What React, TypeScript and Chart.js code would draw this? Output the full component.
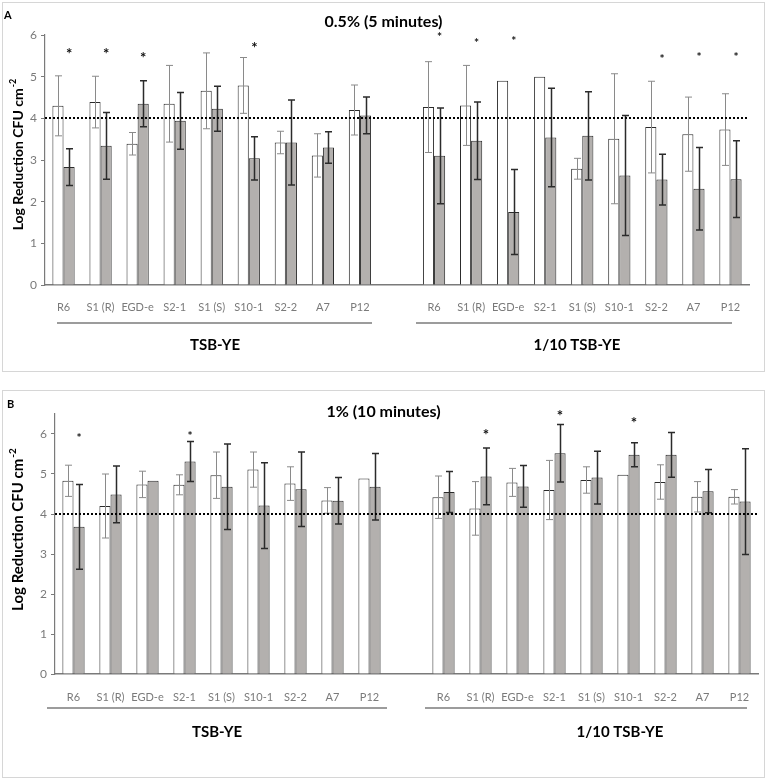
import React, { useEffect, useRef } from "react";
import { Chart, registerables } from "chart.js";

Chart.register(...registerables);

// ---------- data ----------
const strains = ["R6", "S1 (R)", "EGD-e", "S2-1", "S1 (S)", "S10-1", "S2-2", "A7", "P12"];
const mediaGroups = ["TSB-YE", "1/10 TSB-YE"];
const thresholdLog = 4;

// Panel A: 0.5% (5 minutes)
const titleA = "0.5% (5 minutes)";
const aTsbWhite = [4.30, 4.39, 3.39, 4.35, 4.66, 4.79, 3.42, 3.11, 4.20];
const aTsbWhiteSd = [0.72, 0.62, 0.27, 0.92, 0.91, 0.67, 0.27, 0.52, 0.60];
const aTsbGray = [2.83, 3.34, 4.35, 3.94, 4.23, 3.04, 3.42, 3.30, 4.07];
const aTsbGraySd = [0.44, 0.80, 0.55, 0.68, 0.54, 0.52, 1.02, 0.38, 0.44];
const aTenWhite = [4.27, 4.31, 4.90, 5.00, 2.79, 3.51, 3.79, 3.62, 3.73];
const aTenWhiteSd = [1.09, 0.96, 0, 0, 0.25, 1.56, 1.10, 0.89, 0.86];
const aTenGray = [3.10, 3.46, 1.75, 3.54, 3.58, 2.63, 2.53, 2.31, 2.54];
const aTenGraySd = [1.15, 0.93, 1.02, 1.18, 1.06, 1.44, 0.61, 0.99, 0.92];
const aTsbSig = [5.64, 5.64, 5.54, null, null, 5.78, null, null, null];
const aTenSig = [6.01, 5.88, 5.93, null, null, null, 5.50, 5.53, 5.53];

// Panel B: 1% (10 minutes)
const titleB = "1% (10 minutes)";
const bTsbWhite = [4.83, 4.20, 4.74, 4.73, 4.97, 5.11, 4.76, 4.34, 4.89];
const bTsbWhiteSd = [0.39, 0.80, 0.33, 0.25, 0.58, 0.44, 0.42, 0.32, 0];
const bTsbGray = [3.68, 4.49, 4.83, 5.31, 4.68, 4.21, 4.62, 4.33, 4.68];
const bTsbGraySd = [1.06, 0.71, 0, 0.50, 1.07, 1.07, 0.93, 0.58, 0.83];
const bTenWhite = [4.42, 4.14, 4.79, 4.60, 4.85, 4.98, 4.80, 4.43, 4.43];
const bTenWhiteSd = [0.53, 0.67, 0.35, 0.74, 0.33, 0, 0.43, 0.38, 0.18];
const bTenGray = [4.55, 4.94, 4.69, 5.52, 4.91, 5.48, 5.48, 4.57, 4.31];
const bTenGraySd = [0.51, 0.71, 0.52, 0.72, 0.66, 0.30, 0.56, 0.54, 1.32];
const bTsbSig = [5.98, null, null, 6.02, null, null, null, null, null];
const bTenSig = [null, 6.07, null, 6.53, null, 6.36, null, null, null];

// ---------- styling ----------
const FONT = "Lato, 'Open Sans', 'DejaVu Sans', sans-serif";
const WHITE_FILL = "#ffffff";
const GRAY_FILL = "#b3b0ae";
const BAR_EDGE = "#2a2a2a";
const AXIS_COLOR = "#7a7a7a";
const TICK_TEXT = "#7a7a7a";

type Num = number | null;
const joinGroups = (a: Num[], b: Num[]): Num[] => [...a, null, ...b];

type Panel = {
  letter: string;
  title: string;
  white: Num[];
  whiteSd: Num[];
  gray: Num[];
  graySd: Num[];
  sigTsb: Num[];
  sigTen: Num[];
  yMax: number;
  canvasTop: number;
  canvasH: number;
  axisY: number;
  plotTop: number;
  axisX: number;
  plotRight: number;
  tickPad: number;
  titleY: number;
  letterPos: [number, number];
  yTitle: { x: number; y: number; size: number };
  lineY: number;
  tsbLine: [number, number];
  tenLine: [number, number];
  labelY: number;
  tsbLabelX: number;
  tenLabelX: number;
  sigSizeTsb: number;
  sigSizeTen: number;
};

const panelA: Panel = {
  letter: "A",
  title: titleA,
  white: joinGroups(aTsbWhite, aTenWhite),
  whiteSd: joinGroups(aTsbWhiteSd, aTenWhiteSd),
  gray: joinGroups(aTsbGray, aTenGray),
  graySd: joinGroups(aTsbGraySd, aTenGraySd),
  sigTsb: aTsbSig,
  sigTen: aTenSig,
  yMax: 6,
  canvasTop: 0,
  canvasH: 380,
  axisY: 285,
  plotTop: 35,
  axisX: 45,
  plotRight: 749,
  tickPad: 8,
  titleY: 22,
  letterPos: [4, 15],
  yTitle: { x: 18, y: 155, size: 14 },
  lineY: 323,
  tsbLine: [57, 372],
  tenLine: [416, 732],
  labelY: 345,
  tsbLabelX: 215,
  tenLabelX: 577,
  sigSizeTsb: 15,
  sigSizeTen: 12,
};

const panelB: Panel = {
  letter: "B",
  title: titleB,
  white: joinGroups(bTsbWhite, bTenWhite),
  whiteSd: joinGroups(bTsbWhiteSd, bTenWhiteSd),
  gray: joinGroups(bTsbGray, bTenGray),
  graySd: joinGroups(bTsbGraySd, bTenGraySd),
  sigTsb: bTsbSig,
  sigTen: bTenSig,
  yMax: 6.5,
  canvasTop: 385,
  canvasH: 395,
  axisY: 289,
  plotTop: 29,
  axisX: 55,
  plotRight: 758,
  tickPad: 9,
  titleY: 27,
  letterPos: [7, 19],
  yTitle: { x: 18, y: 145, size: 15 },
  lineY: 323,
  tsbLine: [47, 387],
  tenLine: [425, 747],
  labelY: 347,
  tsbLabelX: 217,
  tenLabelX: 620,
  sigSizeTsb: 12,
  sigSizeTen: 15,
};

const W = 767;

function makeOverlay(p: Panel) {
  return {
    id: "overlay" + p.letter,
    afterDatasetsDraw(chart: any) {
      const ctx: CanvasRenderingContext2D = chart.ctx;
      const ys = chart.scales.y;
      const area = chart.chartArea;
      ctx.save();
      // error bars
      const specs = [
        { di: 0, vals: p.white, sd: p.whiteSd, color: "#8a8a8a", lw: 1, cap: 3.5 },
        { di: 1, vals: p.gray, sd: p.graySd, color: "#2b2b2b", lw: 1.5, cap: 3.5 },
      ];
      specs.forEach((s) => {
        const meta = chart.getDatasetMeta(s.di);
        meta.data.forEach((bar: any, i: number) => {
          const v = s.vals[i];
          const e = s.sd[i];
          if (v == null || !e) return;
          const x = Math.round(bar.x) + 0.5;
          const t = ys.getPixelForValue(v + e);
          const b = ys.getPixelForValue(v - e);
          ctx.strokeStyle = s.color;
          ctx.lineWidth = s.lw;
          ctx.beginPath();
          ctx.moveTo(x, t);
          ctx.lineTo(x, b);
          ctx.moveTo(x - s.cap, t);
          ctx.lineTo(x + s.cap, t);
          ctx.moveTo(x - s.cap, b);
          ctx.lineTo(x + s.cap, b);
          ctx.stroke();
        });
      });
      // threshold dotted line
      const ty = Math.round(ys.getPixelForValue(thresholdLog));
      ctx.strokeStyle = "#000";
      ctx.lineWidth = 2;
      ctx.setLineDash([2, 2]);
      ctx.beginPath();
      ctx.moveTo(area.left, ty);
      ctx.lineTo(area.right, ty);
      ctx.stroke();
      ctx.setLineDash([]);
      // significance asterisks (over the gray bars)
      const grayMeta = chart.getDatasetMeta(1);
      const sig = joinGroups(p.sigTsb, p.sigTen);
      sig.forEach((v, i) => {
        if (v == null) return;
        const size = i < strains.length ? p.sigSizeTsb : p.sigSizeTen;
        ctx.fillStyle = "#111";
        ctx.font = `bold ${size}px ${FONT}`;
        ctx.textAlign = "center";
        ctx.textBaseline = "alphabetic";
        ctx.fillText("*", grayMeta.data[i].x, ys.getPixelForValue(v) + size * 0.57);
      });
      ctx.restore();
    },
    afterDraw(chart: any) {
      const ctx: CanvasRenderingContext2D = chart.ctx;
      ctx.save();
      // panel letter
      ctx.fillStyle = "#000";
      ctx.font = `bold 11px ${FONT}`;
      ctx.textAlign = "left";
      ctx.textBaseline = "middle";
      ctx.fillText(p.letter, p.letterPos[0], p.letterPos[1]);
      // title
      ctx.font = `bold 16px ${FONT}`;
      ctx.textAlign = "center";
      ctx.fillText(p.title, W / 2, p.titleY);
      // y axis title with superscript
      const main = "Log Reduction CFU cm";
      const sup = "-2";
      ctx.font = `bold ${p.yTitle.size}px ${FONT}`;
      const wMain = ctx.measureText(main).width;
      ctx.font = `bold ${Math.round(p.yTitle.size * 0.65)}px ${FONT}`;
      const wSup = ctx.measureText(sup).width;
      const total = wMain + wSup;
      ctx.translate(p.yTitle.x, p.yTitle.y);
      ctx.rotate(-Math.PI / 2);
      ctx.textAlign = "left";
      ctx.textBaseline = "middle";
      ctx.font = `bold ${p.yTitle.size}px ${FONT}`;
      ctx.fillText(main, -total / 2, 0);
      ctx.font = `bold ${Math.round(p.yTitle.size * 0.65)}px ${FONT}`;
      ctx.fillText(sup, -total / 2 + wMain + 1, -p.yTitle.size * 0.38);
      ctx.setTransform(1, 0, 0, 1, 0, 0);
      // group lines + labels
      ctx.strokeStyle = "#3a3a3a";
      ctx.lineWidth = 1.2;
      ctx.beginPath();
      ctx.moveTo(p.tsbLine[0], p.lineY);
      ctx.lineTo(p.tsbLine[1], p.lineY);
      ctx.moveTo(p.tenLine[0], p.lineY);
      ctx.lineTo(p.tenLine[1], p.lineY);
      ctx.stroke();
      ctx.fillStyle = "#000";
      ctx.font = `bold 15px ${FONT}`;
      ctx.textAlign = "center";
      ctx.textBaseline = "middle";
      ctx.fillText(mediaGroups[0], p.tsbLabelX, p.labelY);
      ctx.fillText(mediaGroups[1], p.tenLabelX, p.labelY);
      ctx.restore();
    },
  };
}

function PanelChart({ p }: { p: Panel }) {
  const ref = useRef<HTMLCanvasElement | null>(null);
  useEffect(() => {
    if (!ref.current) return;
    const labels = [...strains, "", ...strains];
    const chart = new Chart(ref.current, {
      type: "bar",
      data: {
        labels,
        datasets: [
          {
            label: "white",
            data: p.white,
            backgroundColor: WHITE_FILL,
            borderColor: BAR_EDGE,
            borderWidth: 1,
            categoryPercentage: 0.6,
            barPercentage: 1,
          },
          {
            label: "gray",
            data: p.gray,
            backgroundColor: GRAY_FILL,
            borderColor: BAR_EDGE,
            borderWidth: 1,
            categoryPercentage: 0.6,
            barPercentage: 1,
          },
        ],
      },
      options: {
        animation: false,
        responsive: false,
        events: [],
        layout: {
          padding: { top: p.plotTop, right: W - p.plotRight, left: 0, bottom: 0 },
        },
        plugins: { legend: { display: false }, tooltip: { enabled: false }, title: { display: false } },
        scales: {
          x: {
            type: "category",
            offset: true,
            grid: { display: false },
            border: { display: true, color: AXIS_COLOR, width: 1.5 },
            ticks: {
              autoSkip: false,
              maxRotation: 0,
              minRotation: 0,
              padding: p.tickPad,
              color: TICK_TEXT,
              font: { family: FONT, size: 11 },
            },
            afterFit: (s: any) => {
              s.height = p.canvasH - p.axisY;
            },
          },
          y: {
            type: "linear",
            min: 0,
            max: p.yMax,
            grid: { display: true, drawOnChartArea: false, drawTicks: true, tickLength: 4, color: AXIS_COLOR },
            border: { display: true, color: AXIS_COLOR, width: 1.2 },
            ticks: {
              stepSize: 1,
              includeBounds: false,
              padding: 4,
              color: TICK_TEXT,
              font: { family: FONT, size: 12 },
            },
            afterFit: (s: any) => {
              s.width = p.axisX;
            },
          },
        },
      },
      plugins: [makeOverlay(p)],
    } as any);
    return () => chart.destroy();
  }, [p]);
  return (
    <canvas
      ref={ref}
      width={W}
      height={p.canvasH}
      style={{ position: "absolute", left: 0, top: p.canvasTop, width: W, height: p.canvasH }}
    />
  );
}

export default function App() {
  return (
    <div style={{ position: "absolute", left: 0, top: 0, width: W, height: 780, background: "#fff", overflow: "hidden" }}>
      <div style={{ position: "absolute", left: 2, top: 2, width: 761, height: 368, border: "1px solid #d6d6d6" }} />
      <div style={{ position: "absolute", left: 2, top: 390, width: 761, height: 386, border: "1px solid #d6d6d6" }} />
      <PanelChart p={panelA} />
      <PanelChart p={panelB} />
    </div>
  );
}
